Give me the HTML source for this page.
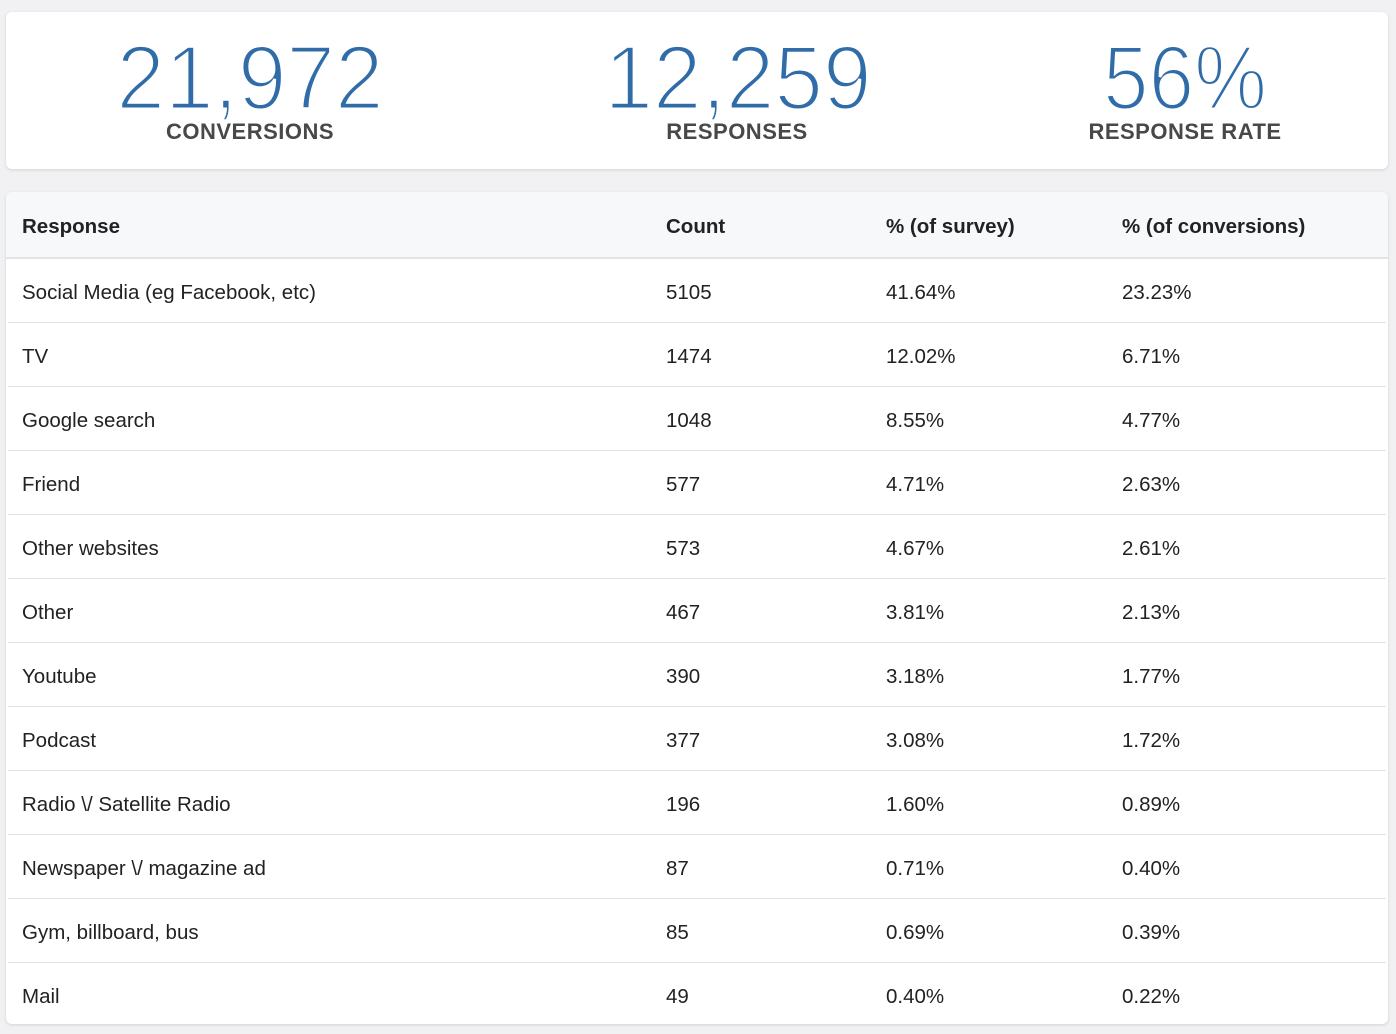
<!DOCTYPE html>
<html>
<head>
<meta charset="utf-8">
<style>
  html,body{margin:0;padding:0;}
  body{width:1396px;height:1034px;background:#f1f1f3;position:relative;overflow:hidden;font-family:"Liberation Sans",sans-serif;}
  .card{position:absolute;left:6px;width:1382px;background:#fff;border-radius:6px;box-shadow:0 1px 3px rgba(0,0,0,0.13);}
  .top{top:12px;height:157px;}
  .num{position:absolute;top:21px;font-size:91px;line-height:91px;color:#2f6ca8;white-space:nowrap;transform:translateX(-50%) scaleX(0.96);letter-spacing:0px;-webkit-text-stroke:3px #fff;}
  .lbl{position:absolute;top:109px;font-size:22px;line-height:22px;font-weight:bold;color:#484848;white-space:nowrap;transform:translateX(-50%);letter-spacing:0.5px;}
  .tbl{top:192px;height:832px;overflow:hidden;}
  .hdr{position:absolute;left:0;top:0;width:1382px;height:65px;background:#f7f8fa;border-bottom:2px solid #e2e3e5;}
  .row{position:absolute;left:2px;width:1378px;height:63px;border-bottom:1px solid #e3e3e3;}
  .c{position:absolute;top:2px;font-size:20.5px;color:#222;white-space:nowrap;}
  .hdr .c{line-height:66px;font-weight:bold;}
  .row .c{line-height:64px;}
</style>
</head>
<body>
<div class="card top">
  <div class="num" style="left:244px;">21,972</div>
  <div class="lbl" style="left:244px;">CONVERSIONS</div>
  <div class="num" style="left:732px;">12,259</div>
  <div class="lbl" style="left:731px;">RESPONSES</div>
  <div class="num" style="left:1179px;transform:translateX(-50%) scaleX(0.9);">56%</div>
  <div class="lbl" style="left:1179px;">RESPONSE RATE</div>
</div>
<div class="card tbl">
  <div class="hdr">
    <div class="c" style="left:16px;">Response</div>
    <div class="c" style="left:660px;">Count</div>
    <div class="c" style="left:880px;">% (of survey)</div>
    <div class="c" style="left:1116px;">% (of conversions)</div>
  </div>
  <div class="row" style="top:67px;"><div class="c" style="left:14px;">Social Media (eg Facebook, etc)</div><div class="c" style="left:658px;">5105</div><div class="c" style="left:878px;">41.64%</div><div class="c" style="left:1114px;">23.23%</div></div>
  <div class="row" style="top:131px;"><div class="c" style="left:14px;">TV</div><div class="c" style="left:658px;">1474</div><div class="c" style="left:878px;">12.02%</div><div class="c" style="left:1114px;">6.71%</div></div>
  <div class="row" style="top:195px;"><div class="c" style="left:14px;">Google search</div><div class="c" style="left:658px;">1048</div><div class="c" style="left:878px;">8.55%</div><div class="c" style="left:1114px;">4.77%</div></div>
  <div class="row" style="top:259px;"><div class="c" style="left:14px;">Friend</div><div class="c" style="left:658px;">577</div><div class="c" style="left:878px;">4.71%</div><div class="c" style="left:1114px;">2.63%</div></div>
  <div class="row" style="top:323px;"><div class="c" style="left:14px;">Other websites</div><div class="c" style="left:658px;">573</div><div class="c" style="left:878px;">4.67%</div><div class="c" style="left:1114px;">2.61%</div></div>
  <div class="row" style="top:387px;"><div class="c" style="left:14px;">Other</div><div class="c" style="left:658px;">467</div><div class="c" style="left:878px;">3.81%</div><div class="c" style="left:1114px;">2.13%</div></div>
  <div class="row" style="top:451px;"><div class="c" style="left:14px;">Youtube</div><div class="c" style="left:658px;">390</div><div class="c" style="left:878px;">3.18%</div><div class="c" style="left:1114px;">1.77%</div></div>
  <div class="row" style="top:515px;"><div class="c" style="left:14px;">Podcast</div><div class="c" style="left:658px;">377</div><div class="c" style="left:878px;">3.08%</div><div class="c" style="left:1114px;">1.72%</div></div>
  <div class="row" style="top:579px;"><div class="c" style="left:14px;">Radio \/ Satellite Radio</div><div class="c" style="left:658px;">196</div><div class="c" style="left:878px;">1.60%</div><div class="c" style="left:1114px;">0.89%</div></div>
  <div class="row" style="top:643px;"><div class="c" style="left:14px;">Newspaper \/ magazine ad</div><div class="c" style="left:658px;">87</div><div class="c" style="left:878px;">0.71%</div><div class="c" style="left:1114px;">0.40%</div></div>
  <div class="row" style="top:707px;"><div class="c" style="left:14px;">Gym, billboard, bus</div><div class="c" style="left:658px;">85</div><div class="c" style="left:878px;">0.69%</div><div class="c" style="left:1114px;">0.39%</div></div>
  <div class="row" style="top:771px;border-bottom:none;"><div class="c" style="left:14px;">Mail</div><div class="c" style="left:658px;">49</div><div class="c" style="left:878px;">0.40%</div><div class="c" style="left:1114px;">0.22%</div></div>
</div>
</body>
</html>
